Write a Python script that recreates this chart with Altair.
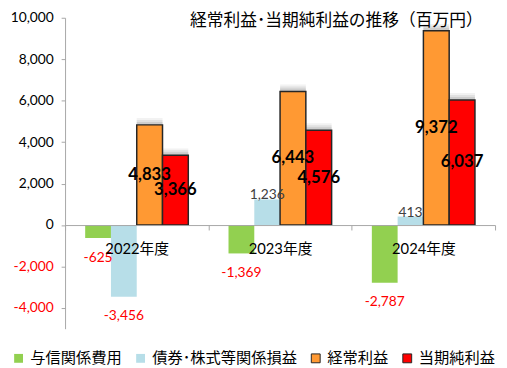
import altair as alt
import pandas as pd

years = ["2022年度", "2023年度", "2024年度"]
series_names = ["与信関係費用", "債券･株式等関係損益", "経常利益", "当期純利益"]
credit_costs = [-625, -1369, -2787]
securities_pl = [-3456, 1236, 413]
ordinary_profit = [4833, 6443, 9372]
net_income = [3366, 4576, 6037]
bar_colors = ["#92D050", "#B7DEE8", "#FF9933", "#FF0000"]
bar_strokes = ["transparent", "transparent", "#262626", "#262626"]
y_tick_values = [-4000, -2000, 0, 2000, 4000, 6000, 8000, 10000]
chart_title = "経常利益･当期純利益の推移（百万円）"

all_series = [credit_costs, securities_pl, ordinary_profit, net_income]
rows = []
for i, yr in enumerate(years):
    for s, vals in zip(series_names, all_series):
        v = vals[i]
        rows.append({"year": yr, "series": s, "value": v, "label": f"{v:,}"})
df = pd.DataFrame(rows)

W, H = 437, 316
JP = "Noto Sans CJK JP"
NUM = "Lato, Noto Sans CJK JP"
GREY = "#A6A6A6"

x_enc = alt.X(
    "year:N", sort=years,
    scale=alt.Scale(domain=years, paddingInner=0, paddingOuter=0),
    axis=alt.Axis(title=None, orient="bottom", offset=-H / 3, labelAngle=0,
                  labelFont=NUM, labelFontSize=15, labelColor="#000000",
                  labelPadding=12, tickBand="extent", tickSize=5,
                  tickColor=GREY, domainColor=GREY, zindex=1),
)
xo_enc = alt.XOffset(
    "series:N", sort=series_names,
    scale=alt.Scale(domain=series_names, paddingInner=0, paddingOuter=0.78),
)
y_scale = alt.Scale(domain=[-5000, 10000], nice=False)
y_axis = alt.Axis(title=None, values=y_tick_values, grid=False,
                  labelExpr="replace(format(datum.value, ','), '\u2212', '-')",
                  labelFont="Lato", labelFontSize=14,
                  labelColor={"condition": {"test": "datum.value < 0", "value": "#FF0000"}, "value": "#000000"},
                  labelPadding=8, tickSize=4, tickColor=GREY, domainColor=GREY)
y_enc = alt.Y("value:Q", scale=y_scale, axis=y_axis)

legend = alt.Legend(title=None, orient="none", legendX=-55, legendY=338,
                    direction="horizontal", symbolType="square", symbolSize=81,
                    labelFont=JP, labelFontSize=15.5, labelColor="#000000",
                    columnPadding=11, labelOffset=4, symbolStrokeWidth=1)

base = alt.Chart(df)
big = base.transform_filter(alt.FieldOneOfPredicate(field="series", oneOf=series_names[2:]))

shadows = [
    big.mark_bar(color="#7F7F7F", opacity=o, xOffset=-d, x2Offset=-d, yOffset=-d).encode(
        x=x_enc, xOffset=xo_enc, y=y_enc)
    for d, o in [(7, 0.10), (5, 0.14), (3, 0.2)]
]

bars = base.mark_bar(strokeWidth=1.5).encode(
    x=x_enc, xOffset=xo_enc, y=y_enc,
    color=alt.Color("series:N", scale=alt.Scale(domain=series_names, range=bar_colors), legend=legend),
    stroke=alt.Stroke("series:N", scale=alt.Scale(domain=series_names, range=bar_strokes), legend=legend),
)

big_labels = big.transform_calculate(mid="datum.value / 2").mark_text(
    font="Lato", fontSize=17, fontWeight="bold", color="#000000").encode(
    x=x_enc, xOffset=xo_enc, y=alt.Y("mid:Q", scale=y_scale, axis=y_axis), text="label:N")

pos_labels = base.transform_filter(
    alt.FieldOneOfPredicate(field="series", oneOf=series_names[:2])).transform_filter(
    "datum.value > 0").mark_text(font="Lato", fontSize=14, color="#404040", dy=-4).encode(
    x=x_enc, xOffset=xo_enc, y=y_enc, text="label:N")

neg_labels = base.transform_filter("datum.value < 0").mark_text(
    font="Lato", fontSize=14, color="#FF0000", dy=20).encode(
    x=x_enc, xOffset=xo_enc, y=y_enc, text="label:N")

title = alt.Chart(pd.DataFrame({"t": [chart_title]})).mark_text(
    align="left", baseline="middle", font=JP, fontSize=17, color="#000000").encode(
    x=alt.value(127), y=alt.value(3), text="t:N")

chart = alt.layer(*shadows, bars, big_labels, pos_labels, neg_labels, title).properties(
    width=W, height=H,
    autosize=alt.AutoSizeParams(type="none"),
    padding={"left": 58, "top": 7, "right": 4, "bottom": 37},
).configure_view(strokeWidth=0)

chart.save("out.html", embed_options={"renderer": "svg", "actions": False})
